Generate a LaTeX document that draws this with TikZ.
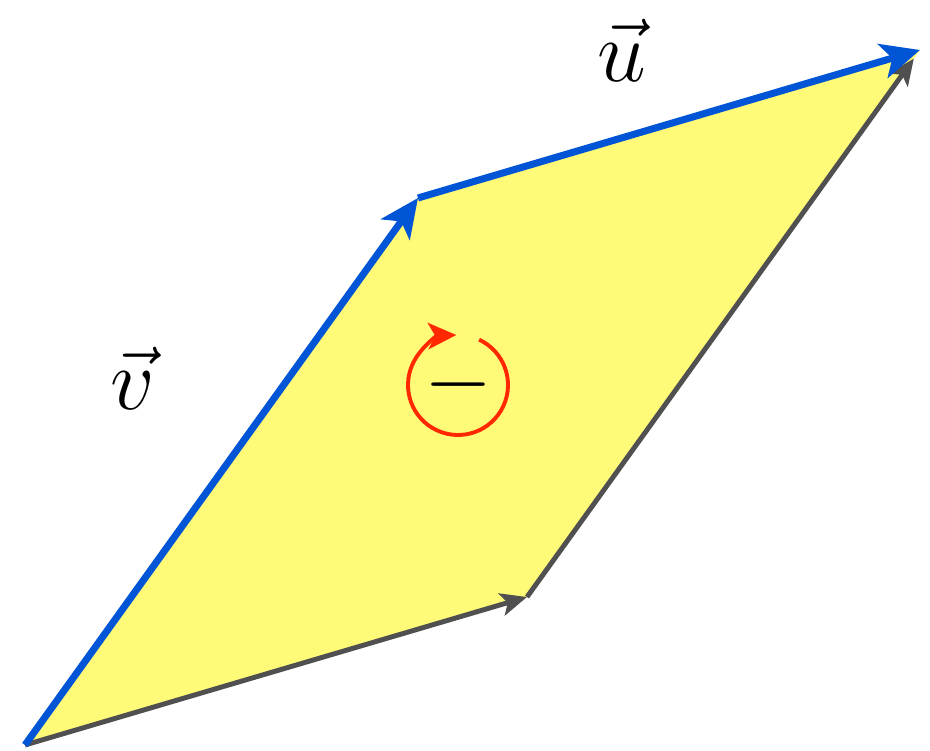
\documentclass[tikz,border=0pt]{standalone}
\usepackage{amsmath,amssymb}
\usepackage{tikz}
\usetikzlibrary{arrows.meta, calc}

\definecolor{paraYellow}{RGB}{255,250,120}
\definecolor{vecBlue}{RGB}{0,85,215}
\definecolor{edgeGray}{RGB}{80,80,80}
\definecolor{orientRed}{RGB}{255,40,0}

\begin{document}
\begin{tikzpicture}[font=\fontsize{26}{30}\selectfont,
		bluevec/.style={line width=2pt, vecBlue, -{Stealth[length=11pt,width=10pt,inset=2.8pt]}},
		grayvec/.style={line width=1.4pt, edgeGray, -{Stealth[length=7.5pt,width=6.5pt,inset=1.8pt]}}]
				\useasboundingbox (0,0) rectangle (9.30,7.51);
				\coordinate (O) at (0.25,0.06);
				\coordinate (V) at (4.18,5.53);
				\coordinate (U) at (5.27,1.54);
				\coordinate (S) at ($(V)+(U)-(O)$);
				\coordinate (M) at (4.58,3.66);
				\fill[paraYellow] (O) -- (V) -- (S) -- (U) -- cycle;
				\draw[grayvec] (O) -- (U);
				\draw[grayvec, shorten >=3pt] (U) -- (S);
				\draw[bluevec] (O) -- (V);
				\draw[bluevec] (V) -- (S);
				\node[anchor=base] (ulabel) at (6.22,6.69) {$\vec{u}$};
				\node[anchor=base] (vlabel) at (1.33,3.41) {$\vec{v}$};
				% orientation mark
				\draw[orientRed, line width=1.1pt, -{Stealth[length=8pt,width=7.5pt,inset=2pt]}]
					($(M)+(65:0.5)$) arc[start angle=65, end angle=-268, radius=0.5];
				\node (sign) at (M) {\fontsize{25}{30}\selectfont$-$};
			\end{tikzpicture}
\end{document}
